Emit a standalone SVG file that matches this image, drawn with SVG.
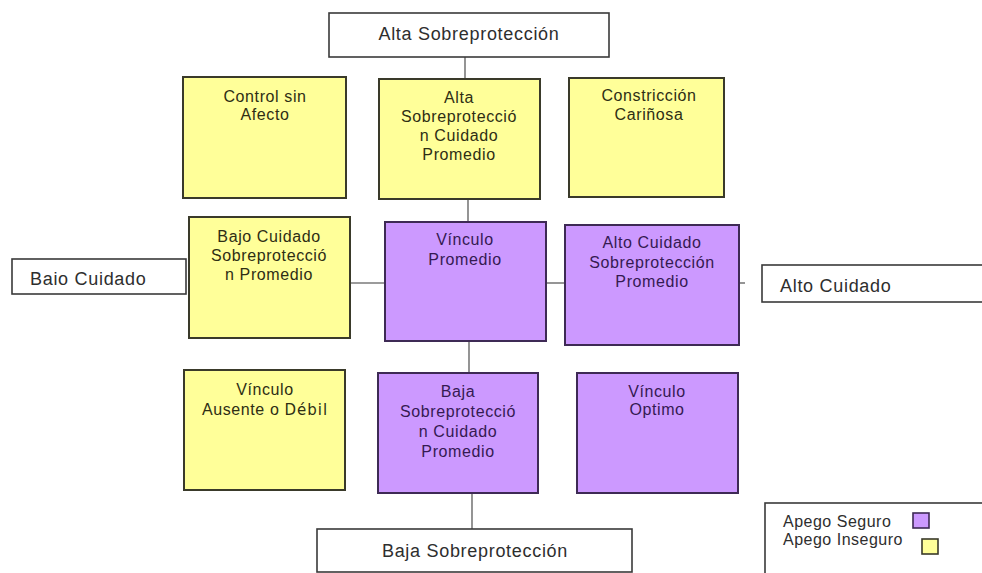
<svg xmlns="http://www.w3.org/2000/svg" width="982" height="573" viewBox="0 0 982 573">
<style>
  .w { fill:#ffffff; stroke:#3a3a3a; stroke-width:1.6; }
  .y { fill:#ffff99; stroke:#3a3a2a; stroke-width:2; }
  .p { fill:#cc99ff; stroke:#3e2a55; stroke-width:2; }
  .c { stroke:#7a7a7a; stroke-width:1.6; fill:none; }
  text { font-family:"Liberation Sans", Arial, sans-serif; font-size:16px; letter-spacing:0.6px; }
  .tw { fill:#2e2e2e; font-size:18px; letter-spacing:0.7px; }
  .ty { fill:#2e2e14; text-anchor:middle; }
  .tp { fill:#351a52; text-anchor:middle; }
  .tl { fill:#2e2e2e; font-size:16px; letter-spacing:0.5px; }
</style>
<rect width="982" height="573" fill="#ffffff"/>
<g id="connectors">
  <line class="c" x1="465" y1="57" x2="465" y2="79"/>
  <line class="c" x1="468" y1="199" x2="468" y2="222"/>
  <line class="c" x1="469" y1="341" x2="469" y2="373"/>
  <line class="c" x1="472" y1="493" x2="472" y2="529"/>
  <line class="c" x1="350" y1="283" x2="385" y2="283"/>
  <line class="c" x1="546" y1="283" x2="565" y2="283"/>
  <line class="c" x1="739" y1="283" x2="745" y2="283"/>
</g>
<g id="alta-sobreproteccion">
  <rect class="w" x="329" y="13" width="280" height="44"/>
  <text class="tw" x="469" y="40" text-anchor="middle">Alta Sobreprotección</text>
</g>
<g id="control-sin-afecto">
  <rect class="y" x="183" y="77" width="163" height="121"/>
  <text class="ty" x="265" y="102">Control sin</text>
  <text class="ty" x="265" y="120">Afecto</text>
</g>
<g id="alta-sobreproteccion-cuidado-promedio">
  <rect class="y" x="379" y="79" width="161" height="120"/>
  <text class="ty" x="459" y="103">Alta</text>
  <text class="ty" x="459" y="122">Sobreprotecció</text>
  <text class="ty" x="459" y="141">n Cuidado</text>
  <text class="ty" x="459" y="160">Promedio</text>
</g>
<g id="constriccion-carinosa">
  <rect class="y" x="569" y="78" width="155" height="119"/>
  <text class="ty" x="649" y="101">Constricción</text>
  <text class="ty" x="649" y="120">Cariñosa</text>
</g>
<g id="baio-cuidado">
  <rect class="w" x="12" y="259" width="174" height="35"/>
  <text class="tw" x="30" y="285">Baio Cuidado</text>
</g>
<g id="bajo-cuidado-sobreproteccion-promedio">
  <rect class="y" x="189" y="217" width="161" height="121"/>
  <text class="ty" x="269" y="242">Bajo Cuidado</text>
  <text class="ty" x="269" y="261">Sobreprotecció</text>
  <text class="ty" x="269" y="280">n Promedio</text>
</g>
<g id="vinculo-promedio">
  <rect class="p" x="385" y="222" width="161" height="119"/>
  <text class="tp" x="465" y="245">Vínculo</text>
  <text class="tp" x="465" y="265">Promedio</text>
</g>
<g id="alto-cuidado-sobreproteccion-promedio">
  <rect class="p" x="565" y="225" width="174" height="120"/>
  <text class="tp" x="652" y="248">Alto Cuidado</text>
  <text class="tp" x="652" y="268">Sobreprotección</text>
  <text class="tp" x="652" y="287">Promedio</text>
</g>
<g id="alto-cuidado">
  <rect class="w" x="762" y="265" width="240" height="37"/>
  <text class="tw" x="780" y="292">Alto Cuidado</text>
</g>
<g id="vinculo-ausente-o-debil">
  <rect class="y" x="184" y="370" width="161" height="120"/>
  <text class="ty" x="265" y="395">Vínculo</text>
  <text class="ty" x="265" y="415">Ausente o <tspan style="font-family:'DejaVu Sans', sans-serif; font-size:15px; letter-spacing:1px">Débil</tspan></text>
</g>
<g id="baja-sobreproteccion-cuidado-promedio">
  <rect class="p" x="378" y="373" width="160" height="120"/>
  <text class="tp" x="458" y="397">Baja</text>
  <text class="tp" x="458" y="417">Sobreprotecció</text>
  <text class="tp" x="458" y="437">n Cuidado</text>
  <text class="tp" x="458" y="457">Promedio</text>
</g>
<g id="vinculo-optimo">
  <rect class="p" x="577" y="373" width="161" height="120"/>
  <text class="tp" x="657" y="397">Vínculo</text>
  <text class="tp" x="657" y="415">Optimo</text>
</g>
<g id="baja-sobreproteccion">
  <rect class="w" x="317" y="529" width="315" height="43"/>
  <text class="tw" x="475" y="557" text-anchor="middle">Baja Sobreprotección</text>
</g>
<g id="legend">
  <rect class="w" x="765" y="503" width="240" height="80"/>
  <text class="tl" x="783" y="527">Apego Seguro</text>
  <text class="tl" x="783" y="545">Apego Inseguro</text>
  <rect class="p" x="913" y="513" width="16" height="15" style="stroke-width:1.6"/>
  <rect class="y" x="922" y="539" width="16" height="15" style="stroke-width:1.6"/>
</g>
</svg>
